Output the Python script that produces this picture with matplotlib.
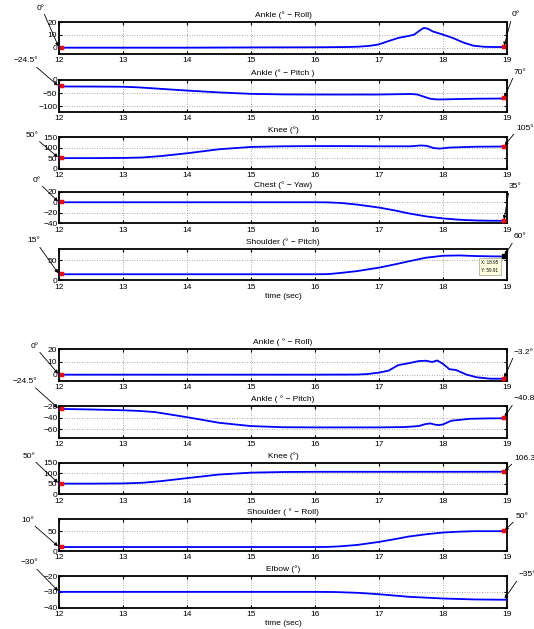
import matplotlib
matplotlib.use('Agg')
import matplotlib.pyplot as plt

plt.rcParams['font.family'] = ['Liberation Sans', 'DejaVu Sans']
plt.rcParams['font.size'] = 6

W, H, DPI = 534, 629, 100

# ---------------- data ----------------
titles = ["Ankle (° − Roll)", "Ankle (° − Pitch )", "Knee (°)", "Chest (° − Yaw)",
          "Shoulder (° − Pitch)",
          "Ankle ( ° − Roll)", "Ankle ( ° − Pitch)", "Knee (°)", "Shoulder ( ° − Roll)",
          "Elbow (°)"]
ylims = [(-5, 20), (-120, 0), (0, 150), (-40, 20), (0, 80),
         (-5, 20), (-75, -20), (0, 150), (0, 80), (-40, -20)]
yticks = [[0, 10, 20], [-100, -50, 0], [0, 50, 100, 150], [-40, -20, 0, 20], [0, 50],
          [0, 10, 20], [-60, -40, -20], [0, 50, 100, 150], [0, 50], [-40, -30, -20]]
xticks = [12, 13, 14, 15, 16, 17, 18, 19]

t1 = [12.0, 13.0, 14.0, 15.0, 16.0, 16.5, 16.67, 16.85, 16.99, 17.15, 17.31, 17.47, 17.55,
      17.63, 17.70, 17.76, 17.84, 18.0, 18.16, 18.32, 18.48, 18.64, 18.8, 18.95]
v1 = [0, 0, 0, 0.2, 0.3, 0.5, 0.75, 1.4, 2.5, 5.2, 7.8, 9.3, 10.3, 13.3, 15.6, 15.0, 12.8,
      10.3, 7.5, 4.0, 1.5, 0.7, 0.5, 0.5]
t2 = [12.0, 12.5, 13.0, 13.25, 13.5, 14.0, 14.5, 15.0, 15.5, 16.0, 17.0, 17.5, 17.6, 17.7,
      17.8, 17.9, 18.0, 18.25, 18.5, 18.95]
v2 = [-24.5, -24.8, -25.5, -28, -32, -40, -47, -52.5, -54.5, -55, -55, -53, -55, -63, -71,
      -73.5, -73.5, -72, -71, -70]
t3 = [12.0, 12.5, 13.0, 13.3, 13.6, 14.0, 14.5, 15.0, 15.5, 16.0, 16.5, 17.0, 17.5, 17.65,
      17.75, 17.85, 17.95, 18.1, 18.5, 18.95]
v3 = [50, 50, 51, 53, 60, 73, 92, 103, 106, 107, 107, 106, 106, 110, 108, 98, 95, 100, 104, 105]
t4 = [12.0, 13.0, 14.0, 15.0, 16.0, 16.2, 16.4, 16.66, 17.0, 17.25, 17.46, 17.75, 18.0,
      18.25, 18.5, 18.75, 18.95]
v4 = [0, 0, 0, 0, 0, -0.2, -1.3, -4.4, -10, -15.5, -21, -27, -30.6, -33, -34.4, -35, -35]
t5 = [12.0, 13.0, 14.0, 15.0, 16.0, 16.2, 16.4, 16.66, 17.0, 17.25, 17.46, 17.73, 18.0,
      18.26, 18.5, 18.75, 18.95]
v5 = [15, 15, 15, 15, 15, 15.3, 18.3, 23, 31.7, 40, 47.5, 56.7, 61.7, 62.5, 61, 60.2, 59.91]
t6 = [12.0, 13.0, 14.0, 15.0, 16.0, 16.67, 16.82, 17.0, 17.15, 17.3, 17.46, 17.62, 17.73,
      17.83, 17.91, 18.0, 18.1, 18.2, 18.28, 18.37, 18.53, 18.74, 18.95]
v6 = [0, 0, 0, 0, 0, 0.1, 0.5, 1.6, 3.2, 7.5, 9, 10.7, 11, 10, 11.2, 8.5, 4.3, 3.7, 2.0, 0,
      -2.1, -3.2, -3.2]
t7 = [12.0, 12.5, 13.0, 13.25, 13.5, 14.0, 14.5, 15.0, 15.5, 16.0, 17.0, 17.4, 17.62, 17.72,
      17.8, 17.88, 17.94, 18.0, 18.13, 18.42, 18.7, 18.95]
v7 = [-24.5, -25.5, -26.9, -28, -30, -38.9, -48.6, -54.3, -56.3, -56.6, -56.6, -56, -54.3,
      -51, -49.7, -52, -52.6, -51.4, -45, -41.7, -41, -40.8]
t8 = [12.0, 12.5, 13.0, 13.3, 13.6, 14.0, 14.5, 15.0, 15.5, 16.0, 17.0, 18.0, 18.95]
v8 = [50, 50, 51, 54, 62, 76, 93, 102, 105, 106, 106, 106, 106.3]
t9 = [12.0, 13.0, 14.0, 15.0, 16.0, 16.2, 16.4, 16.66, 17.0, 17.25, 17.46, 17.75, 18.0,
      18.25, 18.5, 18.95]
v9 = [10, 10, 10, 10, 10, 10.3, 11.9, 15.3, 22.9, 30, 36.4, 42.5, 46.6, 48.8, 50, 50]
t10 = [12.0, 13.0, 14.0, 15.0, 16.0, 16.3, 16.66, 17.0, 17.46, 18.0, 18.5, 19.0]
v10 = [-30, -30, -30, -30, -30, -30.1, -30.6, -31.5, -33.1, -34.2, -34.8, -35]

series_t = [t1, t2, t3, t4, t5, t6, t7, t8, t9, t10]
series_v = [v1, v2, v3, v4, v5, v6, v7, v8, v9, v10]

start_labels = ["0°", "−24.5°", "50°", "0°", "15°", "0°", "−24.5°", "50°", "10°", "−30°"]
end_labels = ["0°", "70°", "105°", "35°", "60°", "−3.2°", "−40.8°", "106.3°", "50°", "−35°"]
marker_t = [12.04, 18.95]
start_marker = [True, True, True, True, True, True, True, True, True, False]
end_marker = [True, True, True, True, False, True, True, True, True, False]

datatip_x = 18.95
datatip_y = 59.91

# ---------------- layout (pixels from top) ----------------
tops = [22.3, 80.0, 137.0, 191.7, 248.5, 349.3, 406.3, 462.5, 519.3, 576.0]
ax_h = 31.7
ax_left, ax_w = 59.0, 448.0
left_txt = [(40.7, 8), (26, 61), (32.4, 135.3), (37, 180), (34, 241), (35, 346),
            (25, 381.7), (29, 456), (28, 520), (29, 563)]
right_txt = [(511.5, 15), (514, 72), (516, 128), (509, 187), (514, 237), (514, 352),
             (514, 399), (514.5, 458), (516, 516), (518.5, 575)]

fig = plt.figure(figsize=(W / DPI, H / DPI), dpi=DPI)

arrowkw = dict(arrowstyle='-|>', color='black', lw=0.6, mutation_scale=5,
               shrinkA=0, shrinkB=1)

for i in range(10):
    ax = fig.add_axes([ax_left / W, 1 - (tops[i] + ax_h) / H, ax_w / W, ax_h / H])
    t, v = series_t[i], series_v[i]
    ax.plot(t, v, color='#0000ff', lw=1.3, zorder=3)
    ax.set_xlim(12, 19)
    ax.set_ylim(*ylims[i])
    ax.set_xticks(xticks)
    ax.set_yticks(yticks[i])
    ax.grid(True, color='0.55', linestyle=(0, (1, 2)), lw=0.6)
    ax.tick_params(direction='in', length=2.5, width=0.8, top=True, right=True,
                   labelsize=6, pad=1.2)
    ax.tick_params(axis='x', pad=2.5)
    for s in ax.spines.values():
        s.set_linewidth(1.3)
    ax.set_title(titles[i], fontsize=6, pad=3.5)

    sv, ev = v[0], v[-1]
    if start_marker[i]:
        ax.plot([marker_t[0]], [sv], 's', color='red', ms=2.3, mew=0.3, zorder=4, clip_on=False)
    if end_marker[i]:
        ax.plot([marker_t[1]], [ev], 's', color='red', ms=2.3, mew=0.3, zorder=4, clip_on=False)

    lx, ly = left_txt[i]
    ax.annotate(start_labels[i], xy=(12.0, sv), xycoords='data',
                xytext=(lx, H - ly), textcoords='figure pixels',
                ha='center', va='center', fontsize=6, annotation_clip=False,
                arrowprops=dict(relpos=(0.8, 0.0), **arrowkw))
    rx, ry = right_txt[i]
    ax.annotate(end_labels[i], xy=(marker_t[1], ev), xycoords='data',
                xytext=(rx, H - ry), textcoords='figure pixels',
                ha='left', va='center', fontsize=6, annotation_clip=False,
                arrowprops=dict(relpos=(0.0, 0.0), **arrowkw))

    if i == 4:
        ax.plot([datatip_x], [datatip_y], 's', color='black', ms=2.6, zorder=5, clip_on=False)
        ax.annotate(f"X: {datatip_x}\nY: {datatip_y}", xy=(datatip_x, datatip_y),
                    xytext=(-14, -10), textcoords='offset pixels', ha='center',
                    va='center', fontsize=3.3, linespacing=1.6, zorder=6,
                    bbox=dict(boxstyle='square,pad=0.5', fc='#ffffe1', ec='#a0a090',
                              lw=0.5))
    if i in (4, 9):
        ax.set_xlabel("time (sec)", fontsize=6, labelpad=1.5)

fig.savefig('out.png', dpi=DPI)
